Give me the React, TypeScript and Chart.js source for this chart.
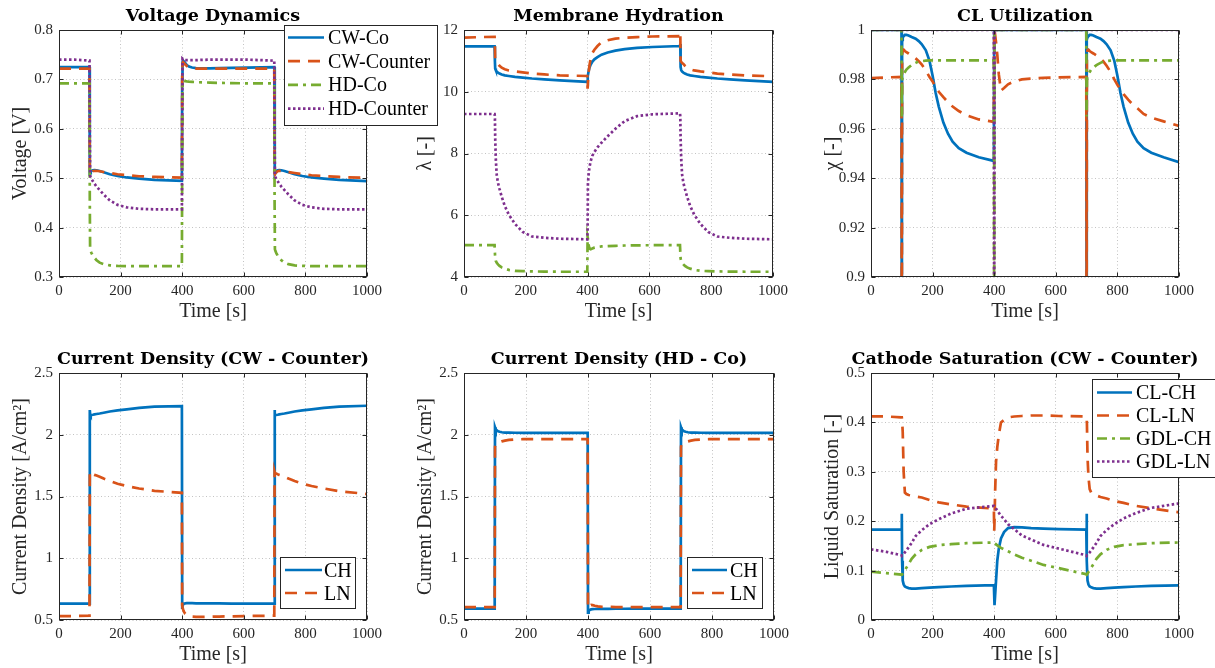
import React, { useEffect, useRef } from "react";
import { Chart, registerables } from "chart.js";
Chart.register(...registerables);

// ---------- shared time axis [s] ----------
const T = [
  0, 50, 99,
  100, 101, 103, 106, 110, 115, 122, 132, 145, 165, 190, 220, 260, 310, 399,
  400, 401, 403, 406, 410, 415, 422, 432, 445, 465, 490, 520, 560, 610, 699,
  700, 701, 703, 706, 710, 715, 722, 732, 745, 765, 790, 820, 860, 910, 1000,
];
// finer time axis used for the CL Utilization panel [s]
const T_CL = [
  0, 50, 99,
  100, 101, 103, 106, 110, 115, 122, 132, 145, 155, 165, 178, 190, 200, 210, 220, 235, 250, 265, 285, 310, 350, 399,
  400, 401, 403, 406, 410, 415, 422, 432, 445, 465, 490, 520, 560, 610, 699,
  700, 701, 703, 706, 710, 715, 722, 732, 745, 755, 765, 778, 790, 800, 810, 820, 835, 850, 865, 885, 910, 950, 1000,
];

// ---------- Voltage Dynamics [V] ----------
const voltCWCo = [
  0.725, 0.725, 0.725,
  0.505, 0.51, 0.513, 0.515, 0.516, 0.5165, 0.516, 0.5145, 0.512, 0.508, 0.5045, 0.5015, 0.499, 0.4965, 0.4945,
  0.7, 0.735, 0.738, 0.736, 0.733, 0.729, 0.726, 0.724, 0.723, 0.7225, 0.7225, 0.723, 0.7235, 0.724, 0.725,
  0.505, 0.51, 0.513, 0.515, 0.516, 0.5165, 0.516, 0.5145, 0.512, 0.508, 0.5045, 0.5015, 0.499, 0.4965, 0.494,
];
const voltCWCounter = [
  0.722, 0.722, 0.722,
  0.51, 0.508, 0.51, 0.512, 0.514, 0.515, 0.515, 0.514, 0.5125, 0.5105, 0.508, 0.506, 0.504, 0.5025, 0.501,
  0.71, 0.733, 0.735, 0.733, 0.73, 0.727, 0.724, 0.7225, 0.722, 0.722, 0.722, 0.722, 0.722, 0.722, 0.722,
  0.51, 0.508, 0.51, 0.512, 0.514, 0.515, 0.515, 0.514, 0.5125, 0.5105, 0.508, 0.506, 0.504, 0.5025, 0.5005,
];
const voltHDCo = [
  0.692, 0.692, 0.692,
  0.45, 0.356, 0.352, 0.348, 0.343, 0.339, 0.334, 0.329, 0.326, 0.3235, 0.3225, 0.322, 0.322, 0.322, 0.322,
  0.55, 0.697, 0.698, 0.697, 0.6965, 0.696, 0.6955, 0.695, 0.6945, 0.694, 0.6935, 0.693, 0.6925, 0.692, 0.692,
  0.45, 0.356, 0.352, 0.348, 0.343, 0.339, 0.334, 0.329, 0.326, 0.3235, 0.3225, 0.322, 0.322, 0.322, 0.322,
];
const voltHDCounter = [
  0.74, 0.74, 0.738,
  0.6, 0.505, 0.502, 0.498, 0.494, 0.489, 0.483, 0.476, 0.467, 0.455, 0.446, 0.441, 0.438, 0.437, 0.437,
  0.6, 0.742, 0.741, 0.74, 0.739, 0.739, 0.739, 0.739, 0.739, 0.7395, 0.74, 0.74, 0.74, 0.74, 0.738,
  0.6, 0.505, 0.502, 0.498, 0.494, 0.489, 0.483, 0.476, 0.467, 0.455, 0.446, 0.441, 0.438, 0.437, 0.437,
];

// ---------- Membrane Hydration lambda [-] ----------
const lamCWCo = [
  11.47, 11.47, 11.47,
  11.0, 10.75, 10.7, 10.65, 10.62, 10.59, 10.56, 10.53, 10.51, 10.48, 10.46, 10.43, 10.4, 10.37, 10.32,
  10.3, 10.5, 10.65, 10.78, 10.88, 10.97, 11.05, 11.12, 11.2, 11.27, 11.33, 11.38, 11.42, 11.45, 11.48,
  11.55, 10.8, 10.7, 10.65, 10.62, 10.59, 10.56, 10.53, 10.51, 10.48, 10.46, 10.43, 10.4, 10.37, 10.32,
];
const lamCWCounter = [
  11.75, 11.77, 11.78,
  11.5, 11.0, 10.97, 10.93, 10.9, 10.84, 10.78, 10.73, 10.69, 10.66, 10.63, 10.59, 10.56, 10.53, 10.51,
  10.1, 10.3, 10.6, 10.85, 11.08, 11.25, 11.36, 11.48, 11.6, 11.67, 11.72, 11.75, 11.77, 11.79, 11.8,
  11.92, 11.0, 10.97, 10.93, 10.9, 10.84, 10.78, 10.73, 10.69, 10.66, 10.63, 10.59, 10.56, 10.53, 10.5,
];
const lamHDCo = [
  5.03, 5.03, 5.03,
  4.8, 4.6, 4.52, 4.46, 4.41, 4.36, 4.31, 4.27, 4.23, 4.2, 4.19, 4.18, 4.175, 4.17, 4.17,
  5.3, 5.25, 5.05, 4.92, 4.9, 4.92, 4.95, 4.97, 4.99, 5.0, 5.01, 5.02, 5.025, 5.03, 5.03,
  4.8, 4.6, 4.52, 4.46, 4.41, 4.36, 4.31, 4.27, 4.23, 4.2, 4.19, 4.18, 4.175, 4.17, 4.17,
];
const lamHDCounter = [
  9.28, 9.28, 9.28,
  9.2, 8.5, 7.8, 7.3, 7.05, 6.85, 6.6, 6.3, 6.02, 5.72, 5.46, 5.31, 5.27, 5.24, 5.22,
  5.5, 7.0, 7.3, 7.55, 7.75, 7.92, 8.05, 8.2, 8.35, 8.56, 8.8, 9.05, 9.21, 9.27, 9.3,
  9.2, 8.5, 7.8, 7.3, 7.05, 6.85, 6.6, 6.3, 6.02, 5.72, 5.46, 5.31, 5.27, 5.24, 5.22,
];

// ---------- CL Utilization chi [-] (on T_CL) ----------
const chiCWCo = [
  1, 1, 1,
  0.85, 0.996, 0.997, 0.9975, 0.998, 0.998, 0.9978, 0.9972, 0.9965, 0.9955, 0.9942, 0.9918, 0.9875, 0.9815, 0.9745, 0.969, 0.9625, 0.958, 0.9548, 0.9522, 0.9503, 0.9485, 0.947,
  1, 1, 1, 1, 1, 1, 1, 1, 1, 1, 1, 1, 1, 1, 1,
  0.85, 0.996, 0.997, 0.9975, 0.998, 0.998, 0.9978, 0.9972, 0.9965, 0.9955, 0.9942, 0.9918, 0.9875, 0.9815, 0.9745, 0.969, 0.9625, 0.958, 0.9548, 0.9522, 0.9503, 0.9485, 0.9465,
];
const chiCWCounter = [
  0.9805, 0.9808, 0.981,
  0.85, 0.99, 0.9918, 0.992, 0.9915, 0.991, 0.9905, 0.9897, 0.9885, 0.9874, 0.986, 0.9835, 0.981, 0.9792, 0.9768, 0.975, 0.9728, 0.9708, 0.969, 0.9672, 0.9655, 0.9638, 0.9628,
  1, 1, 0.998, 0.995, 0.99, 0.982, 0.9755, 0.9765, 0.978, 0.9792, 0.98, 0.9803, 0.9806, 0.9808, 0.981,
  0.85, 0.99, 0.9918, 0.992, 0.9915, 0.991, 0.9905, 0.9897, 0.9885, 0.9872, 0.9855, 0.983, 0.98, 0.9778, 0.9758, 0.974, 0.9718, 0.9698, 0.9683, 0.966, 0.9645, 0.963, 0.9612,
];
const chiHDCo = [
  1, 1, 1,
  0.965, 0.98, 0.981, 0.982, 0.983, 0.984, 0.9848, 0.9858, 0.9867, 0.9872, 0.9874, 0.9876, 0.9877, 0.9877, 0.9877, 0.9877, 0.9877, 0.9877, 0.9877, 0.9877, 0.9877, 0.9877, 0.9877,
  0.85, 1, 1, 1, 1, 1, 1, 1, 1, 1, 1, 1, 1, 1, 1,
  0.965, 0.98, 0.981, 0.982, 0.983, 0.984, 0.9848, 0.9858, 0.9867, 0.9872, 0.9874, 0.9876, 0.9877, 0.9877, 0.9877, 0.9877, 0.9877, 0.9877, 0.9877, 0.9877, 0.9877, 0.9877, 0.9877,
];
const chiHDCounter = [
  1, 1, 1,
  1, 1, 1, 1, 1, 1, 1, 1, 1, 1, 1, 1, 1, 1, 1, 1, 1, 1, 1, 1, 1, 1, 1,
  0.85, 1, 1, 1, 1, 1, 1, 1, 1, 1, 1, 1, 1, 1, 1,
  1, 1, 1, 1, 1, 1, 1, 1, 1, 1, 1, 1, 1, 1, 1, 1, 1, 1, 1, 1, 1, 1, 1,
];

// ---------- Current Density (CW - Counter) [A/cm2] ----------
const jCWCounterCH = [
  0.632, 0.632, 0.632,
  2.2, 2.17, 2.16, 2.16, 2.162, 2.165, 2.168, 2.172, 2.178, 2.188, 2.197, 2.206, 2.218, 2.227, 2.232,
  0.6, 0.615, 0.625, 0.632, 0.635, 0.636, 0.636, 0.636, 0.635, 0.635, 0.634, 0.634, 0.633, 0.633, 0.632,
  2.2, 2.17, 2.16, 2.16, 2.162, 2.165, 2.168, 2.172, 2.178, 2.188, 2.197, 2.206, 2.218, 2.227, 2.235,
];
const jCWCounterLN = [
  0.532, 0.532, 0.535,
  1.7, 1.69, 1.688, 1.685, 1.68, 1.675, 1.67, 1.66, 1.645, 1.625, 1.603, 1.585, 1.565, 1.546, 1.53,
  0.62, 0.6, 0.585, 0.565, 0.55, 0.54, 0.532, 0.527, 0.525, 0.525, 0.526, 0.528, 0.53, 0.532, 0.535,
  1.7, 1.69, 1.688, 1.685, 1.68, 1.675, 1.67, 1.66, 1.645, 1.625, 1.603, 1.585, 1.565, 1.543, 1.52,
];

// ---------- Current Density (HD - Co) [A/cm2] ----------
const jHDCoCH = [
  0.592, 0.592, 0.592,
  2.06, 2.055, 2.045, 2.035, 2.028, 2.024, 2.02, 2.018, 2.017, 2.016, 2.015, 2.015, 2.015, 2.015, 2.015,
  0.56, 0.565, 0.575, 0.582, 0.586, 0.588, 0.589, 0.59, 0.59, 0.59, 0.591, 0.591, 0.592, 0.592, 0.592,
  2.06, 2.055, 2.045, 2.035, 2.028, 2.024, 2.02, 2.018, 2.017, 2.016, 2.015, 2.015, 2.015, 2.015, 2.015,
];
const jHDCoLN = [
  0.605, 0.605, 0.605,
  1.9, 1.92, 1.925, 1.93, 1.935, 1.94, 1.946, 1.952, 1.958, 1.962, 1.964, 1.965, 1.965, 1.965, 1.965,
  0.6, 0.595, 0.6, 0.615, 0.622, 0.62, 0.615, 0.61, 0.607, 0.606, 0.605, 0.605, 0.605, 0.605, 0.605,
  1.9, 1.92, 1.925, 1.93, 1.935, 1.94, 1.946, 1.952, 1.958, 1.962, 1.964, 1.965, 1.965, 1.965, 1.965,
];

// ---------- Cathode Saturation (CW - Counter) [-] ----------
const satCLCH = [
  0.183, 0.183, 0.183,
  0.215, 0.12, 0.08, 0.072, 0.068, 0.066, 0.0645, 0.0637, 0.0637, 0.0645, 0.0655, 0.0665, 0.0678, 0.069, 0.0705,
  0.05, 0.03, 0.05, 0.08, 0.12, 0.145, 0.165, 0.178, 0.186, 0.188, 0.1875, 0.186, 0.185, 0.184, 0.183,
  0.215, 0.12, 0.08, 0.072, 0.068, 0.066, 0.0645, 0.0637, 0.0637, 0.0645, 0.0655, 0.0665, 0.0678, 0.069, 0.07,
];
const satCLLN = [
  0.412, 0.412, 0.41,
  0.41, 0.405, 0.38, 0.3, 0.258, 0.255, 0.253, 0.252, 0.25, 0.248, 0.243, 0.238, 0.234, 0.2295, 0.2255,
  0.18, 0.2, 0.26, 0.32, 0.35, 0.375, 0.4, 0.405, 0.41, 0.412, 0.413, 0.414, 0.414, 0.413, 0.412,
  0.41, 0.4, 0.33, 0.29, 0.265, 0.258, 0.255, 0.252, 0.249, 0.246, 0.241, 0.237, 0.231, 0.226, 0.218,
];
const satGDLCH = [
  0.098, 0.095, 0.092,
  0.0915, 0.092, 0.094, 0.097, 0.101, 0.106, 0.113, 0.124, 0.133, 0.142, 0.148, 0.1515, 0.1535, 0.1555, 0.157,
  0.157, 0.156, 0.155, 0.153, 0.151, 0.149, 0.146, 0.143, 0.139, 0.133, 0.126, 0.12, 0.1115, 0.105, 0.0925,
  0.0915, 0.092, 0.094, 0.097, 0.101, 0.106, 0.113, 0.124, 0.133, 0.142, 0.148, 0.1515, 0.1535, 0.1555, 0.157,
];
const satGDLLN = [
  0.143, 0.138, 0.131,
  0.13, 0.131, 0.132, 0.134, 0.137, 0.141, 0.147, 0.156, 0.17, 0.182, 0.194, 0.204, 0.2155, 0.2255, 0.231,
  0.231, 0.23, 0.228, 0.225, 0.222, 0.217, 0.211, 0.204, 0.194, 0.184, 0.171, 0.163, 0.152, 0.1445, 0.131,
  0.13, 0.131, 0.132, 0.134, 0.137, 0.141, 0.147, 0.156, 0.17, 0.182, 0.194, 0.2055, 0.2165, 0.227, 0.236,
];

// ---------- styles ----------
const LINE_STYLES: Record<string, { color: string; dash: number[] }> = {
  solid: { color: "#0072BD", dash: [] },
  dashed: { color: "#D95319", dash: [12, 8] },
  dashdot: { color: "#77AC30", dash: [10, 5, 3, 5] },
  dotted: { color: "#7E2F8E", dash: [2.5, 2.5] },
};
const LW = 2.7;
const SERIF = "'Liberation Serif', 'Times New Roman', serif";
const TITLE_FONT = "bold 17.5px 'DejaVu Serif', serif";
const LABEL_FONT = `20px ${SERIF}`;
const AXIS_COLOR = "#262626";

type Series = { label: string; values: number[]; style: string };
type Legend = { x: number; y: number; w: number; h: number; row0: number; dy: number; s1: number; s2: number; tx: number };
type Panel = {
  title: string;
  xLabel: string;
  yLabel: string;
  yMin: number;
  yMax: number;
  yStep: number;
  times: number[];
  series: Series[];
  canvas: { x: number; y: number; w: number; h: number; z: number };
  area: { l: number; t: number; r: number; b: number };
  legend?: Legend;
};

const Y_AXIS_W = 50;
const X_AXIS_H = 30;

const PANELS: Panel[] = [
  {
    title: "Voltage Dynamics",
    xLabel: "Time [s]",
    yLabel: "Voltage [V]",
    yMin: 0.3, yMax: 0.8, yStep: 0.1,
    times: T,
    series: [
      { label: "CW-Co", values: voltCWCo, style: "solid" },
      { label: "CW-Counter", values: voltCWCounter, style: "dashed" },
      { label: "HD-Co", values: voltHDCo, style: "dashdot" },
      { label: "HD-Counter", values: voltHDCounter, style: "dotted" },
    ],
    canvas: { x: 0, y: 0, w: 450, h: 334, z: 3 },
    area: { l: 59, t: 30, r: 367, b: 277 },
    legend: { x: 284, y: 25, w: 153, h: 100, row0: 37.5, dy: 23.7, s1: 288, s2: 324, tx: 328 },
  },
  {
    title: "Membrane Hydration",
    xLabel: "Time [s]",
    yLabel: "λ [-]",
    yMin: 4, yMax: 12, yStep: 2,
    times: T,
    series: [
      { label: "CW-Co", values: lamCWCo, style: "solid" },
      { label: "CW-Counter", values: lamCWCounter, style: "dashed" },
      { label: "HD-Co", values: lamHDCo, style: "dashdot" },
      { label: "HD-Counter", values: lamHDCounter, style: "dotted" },
    ],
    canvas: { x: 405, y: 0, w: 405, h: 334, z: 1 },
    area: { l: 464, t: 30, r: 773, b: 277 },
  },
  {
    title: "CL Utilization",
    xLabel: "Time [s]",
    yLabel: "χ [-]",
    yMin: 0.9, yMax: 1, yStep: 0.02,
    times: T_CL,
    series: [
      { label: "CW-Co", values: chiCWCo, style: "solid" },
      { label: "CW-Counter", values: chiCWCounter, style: "dashed" },
      { label: "HD-Co", values: chiHDCo, style: "dashdot" },
      { label: "HD-Counter", values: chiHDCounter, style: "dotted" },
    ],
    canvas: { x: 810, y: 0, w: 405, h: 334, z: 1 },
    area: { l: 871, t: 30, r: 1179, b: 277 },
  },
  {
    title: "Current Density (CW - Counter)",
    xLabel: "Time [s]",
    yLabel: "Current Density [A/cm²]",
    yMin: 0.5, yMax: 2.5, yStep: 0.5,
    times: T,
    series: [
      { label: "CH", values: jCWCounterCH, style: "solid" },
      { label: "LN", values: jCWCounterLN, style: "dashed" },
    ],
    canvas: { x: 0, y: 334, w: 405, h: 334, z: 1 },
    area: { l: 59, t: 373, r: 367, b: 620 },
    legend: { x: 280, y: 557, w: 75, h: 51, row0: 570, dy: 23, s1: 285, s2: 322, tx: 324 },
  },
  {
    title: "Current Density (HD - Co)",
    xLabel: "Time [s]",
    yLabel: "Current Density [A/cm²]",
    yMin: 0.5, yMax: 2.5, yStep: 0.5,
    times: T,
    series: [
      { label: "CH", values: jHDCoCH, style: "solid" },
      { label: "LN", values: jHDCoLN, style: "dashed" },
    ],
    canvas: { x: 405, y: 334, w: 405, h: 334, z: 1 },
    area: { l: 464, t: 373, r: 774, b: 620 },
    legend: { x: 687, y: 557, w: 75, h: 51, row0: 570, dy: 23, s1: 692, s2: 727, tx: 730 },
  },
  {
    title: "Cathode Saturation (CW - Counter)",
    xLabel: "Time [s]",
    yLabel: "Liquid Saturation [-]",
    yMin: 0, yMax: 0.5, yStep: 0.1,
    times: T,
    series: [
      { label: "CL-CH", values: satCLCH, style: "solid" },
      { label: "CL-LN", values: satCLLN, style: "dashed" },
      { label: "GDL-CH", values: satGDLCH, style: "dashdot" },
      { label: "GDL-LN", values: satGDLLN, style: "dotted" },
    ],
    canvas: { x: 810, y: 334, w: 405, h: 334, z: 1 },
    area: { l: 871, t: 373, r: 1179, b: 620 },
    legend: { x: 1092, y: 379, w: 130, h: 98, row0: 392.5, dy: 23, s1: 1097, s2: 1132, tx: 1136 },
  },
];

function makeDecor(p: Panel) {
  return {
    id: "decor",
    afterDraw(chart: any) {
      const ctx: CanvasRenderingContext2D = chart.ctx;
      const a = chart.chartArea;
      const ox = p.canvas.x;
      const oy = p.canvas.y;
      ctx.save();
      ctx.setLineDash([]);
      ctx.strokeStyle = AXIS_COLOR;
      ctx.lineWidth = 1;
      const L = Math.round(a.left) + 0.5;
      const R = Math.round(a.right) - 0.5;
      const Tp = Math.round(a.top) + 0.5;
      const B = Math.round(a.bottom) - 0.5;
      ctx.strokeRect(L, Tp, R - L, B - Tp);
      const xs = chart.scales.x;
      const ys = chart.scales.y;
      ctx.beginPath();
      xs.ticks.forEach((t: any) => {
        const px = Math.round(xs.getPixelForValue(t.value)) + 0.5;
        ctx.moveTo(px, B); ctx.lineTo(px, B - 4);
        ctx.moveTo(px, Tp); ctx.lineTo(px, Tp + 4);
      });
      ys.ticks.forEach((t: any) => {
        const py = Math.round(ys.getPixelForValue(t.value)) + 0.5;
        ctx.moveTo(L, py); ctx.lineTo(L + 4, py);
        ctx.moveTo(R, py); ctx.lineTo(R - 4, py);
      });
      ctx.stroke();

      const cx = (a.left + a.right) / 2;
      ctx.textAlign = "center";
      ctx.textBaseline = "alphabetic";
      ctx.fillStyle = "#000";
      ctx.font = TITLE_FONT;
      ctx.fillText(p.title, cx, a.top - 9.5);
      ctx.fillStyle = AXIS_COLOR;
      ctx.font = LABEL_FONT;
      ctx.fillText(p.xLabel, cx, a.bottom + 40);
      ctx.save();
      ctx.translate(a.left - 33, (a.top + a.bottom) / 2);
      ctx.rotate(-Math.PI / 2);
      ctx.fillText(p.yLabel, 0, 0);
      ctx.restore();

      const lg = p.legend;
      if (lg) {
        const x = lg.x - ox;
        const y = lg.y - oy;
        ctx.fillStyle = "#fff";
        ctx.fillRect(x, y, lg.w, lg.h);
        ctx.strokeStyle = AXIS_COLOR;
        ctx.lineWidth = 1;
        ctx.setLineDash([]);
        ctx.strokeRect(Math.round(x) + 0.5, Math.round(y) + 0.5, lg.w, lg.h);
        p.series.forEach((s, i) => {
          const st = LINE_STYLES[s.style];
          const ry = lg.row0 - oy + i * lg.dy;
          ctx.beginPath();
          ctx.setLineDash(st.dash);
          ctx.strokeStyle = st.color;
          ctx.lineWidth = LW;
          ctx.lineCap = "butt";
          ctx.moveTo(lg.s1 - ox, ry);
          ctx.lineTo(lg.s2 - ox, ry);
          ctx.stroke();
          ctx.setLineDash([]);
          ctx.fillStyle = "#000";
          ctx.font = LABEL_FONT;
          ctx.textAlign = "left";
          ctx.fillText(s.label, lg.tx - ox, ry + 6.5);
        });
      }
      ctx.restore();
    },
  };
}

function fmt(v: number) {
  return String(Math.round(v * 1000) / 1000);
}

function PanelChart({ p }: { p: Panel }) {
  const ref = useRef<HTMLCanvasElement | null>(null);
  useEffect(() => {
    if (!ref.current) return;
    const c = p.canvas;
    const padding = {
      left: p.area.l - c.x - Y_AXIS_W,
      top: p.area.t - c.y,
      right: c.x + c.w - p.area.r,
      bottom: c.y + c.h - p.area.b - X_AXIS_H,
    };
    const gridOpts = { color: "rgba(38,38,38,0.28)", lineWidth: 1, drawTicks: false };
    const borderOpts = { display: false, dash: [1, 2.5] };
    const tickFont = { family: SERIF, size: 15 };
    const chart = new Chart(ref.current, {
      type: "line",
      data: {
        datasets: p.series.map((s, i) => {
          const st = LINE_STYLES[s.style];
          return {
            label: s.label,
            data: p.times.map((t, k) => ({ x: t, y: s.values[k] })),
            borderColor: st.color,
            backgroundColor: st.color,
            borderDash: st.dash,
            borderWidth: LW,
            borderCapStyle: "butt",
            pointRadius: 0,
            tension: 0,
            fill: false,
            order: -i,
          };
        }),
      },
      options: {
        responsive: false,
        animation: false,
        devicePixelRatio: 1,
        events: [],
        layout: { padding, autoPadding: false },
        plugins: {
          legend: { display: false },
          tooltip: { enabled: false },
          title: { display: false },
        },
        scales: {
          x: {
            type: "linear",
            min: 0,
            max: 1000,
            grid: gridOpts,
            border: borderOpts,
            ticks: {
              stepSize: 200,
              padding: 5,
              maxRotation: 0,
              autoSkip: false,
              color: AXIS_COLOR,
              font: tickFont,
              callback: (v: any) => fmt(Number(v)),
            },
            afterFit: (s: any) => {
              s.height = X_AXIS_H;
              s.paddingLeft = 0;
              s.paddingRight = 0;
            },
          },
          y: {
            type: "linear",
            min: p.yMin,
            max: p.yMax,
            grid: gridOpts,
            border: borderOpts,
            ticks: {
              stepSize: p.yStep,
              padding: 6,
              autoSkip: false,
              color: AXIS_COLOR,
              font: tickFont,
              callback: (v: any) => fmt(Number(v)),
            },
            afterFit: (s: any) => {
              s.width = Y_AXIS_W;
              s.paddingTop = 0;
              s.paddingBottom = 0;
            },
          },
        },
      } as any,
      plugins: [makeDecor(p)],
    } as any);
    return () => chart.destroy();
  }, [p]);
  const c = p.canvas;
  return (
    <canvas
      ref={ref}
      width={c.w}
      height={c.h}
      style={{ position: "absolute", left: c.x, top: c.y, width: c.w, height: c.h, zIndex: c.z }}
    />
  );
}

export default function App() {
  return (
    <div
      style={{
        position: "absolute",
        left: 0,
        top: 0,
        width: 1215,
        height: 668,
        background: "#fff",
        overflow: "hidden",
      }}
    >
      {PANELS.map((p, i) => (
        <PanelChart key={i} p={p} />
      ))}
    </div>
  );
}
